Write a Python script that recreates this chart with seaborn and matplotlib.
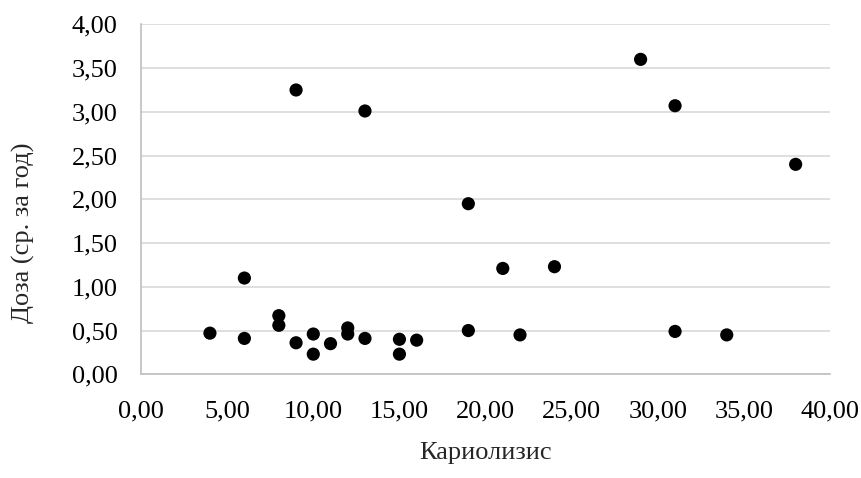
import matplotlib
matplotlib.use("Agg")
import matplotlib.pyplot as plt
from matplotlib.ticker import FuncFormatter, MultipleLocator
import seaborn as sns
import pandas as pd

# values
karyolysis = [4, 6, 6, 8, 8, 9, 9, 10, 10, 11, 12, 12, 13, 13, 15, 15, 16,
              19, 19, 21, 22, 24, 29, 31, 31, 34, 38]
dose = [0.47, 1.10, 0.41, 0.67, 0.56, 0.36, 3.25, 0.46, 0.23, 0.35, 0.53, 0.46,
        0.41, 3.01, 0.40, 0.23, 0.39, 1.95, 0.50, 1.21, 0.45, 1.23, 3.60, 3.07,
        0.49, 0.45, 2.40]

df = pd.DataFrame({"x": karyolysis, "y": dose})

sns.set_style("white")
plt.rcParams["font.family"] = ["Liberation Serif", "DejaVu Serif"]

fig = plt.figure(figsize=(8.62, 4.78), dpi=100)
ax = fig.add_axes([0.1636, 0.217, 0.7994, 0.732])

sns.scatterplot(data=df, x="x", y="y", color="black", s=90, edgecolor="none",
                ax=ax, zorder=3)

comma = FuncFormatter(lambda v, _: f"{v:.2f}".replace(".", ","))
ax.set_xlim(0, 40); ax.set_ylim(0, 4)
ax.xaxis.set_major_locator(MultipleLocator(5))
ax.yaxis.set_major_locator(MultipleLocator(0.5))
ax.xaxis.set_major_formatter(comma); ax.yaxis.set_major_formatter(comma)
ax.tick_params(length=0, labelsize=19, colors="#000000")
ax.tick_params(axis="x", pad=19)
ax.tick_params(axis="y", pad=17)

ax.grid(axis="y", color="#d9d9d9", linewidth=1.2)
ax.grid(axis="x", visible=False)
ax.set_axisbelow(True)
for side in ["top", "right"]:
    ax.spines[side].set_visible(False)
for side in ["left", "bottom"]:
    ax.spines[side].set_color("#bfbfbf")
    ax.spines[side].set_linewidth(1.2)

ax.set_xlabel("Кариолизис", fontsize=19, va="center")
ax.set_ylabel("Доза (ср. за год)", fontsize=19, va="center")
ax.xaxis.set_label_coords(0.5, -0.225)
ax.yaxis.set_label_coords(-0.171, 0.404)

fig.savefig("out.png", dpi=100)
